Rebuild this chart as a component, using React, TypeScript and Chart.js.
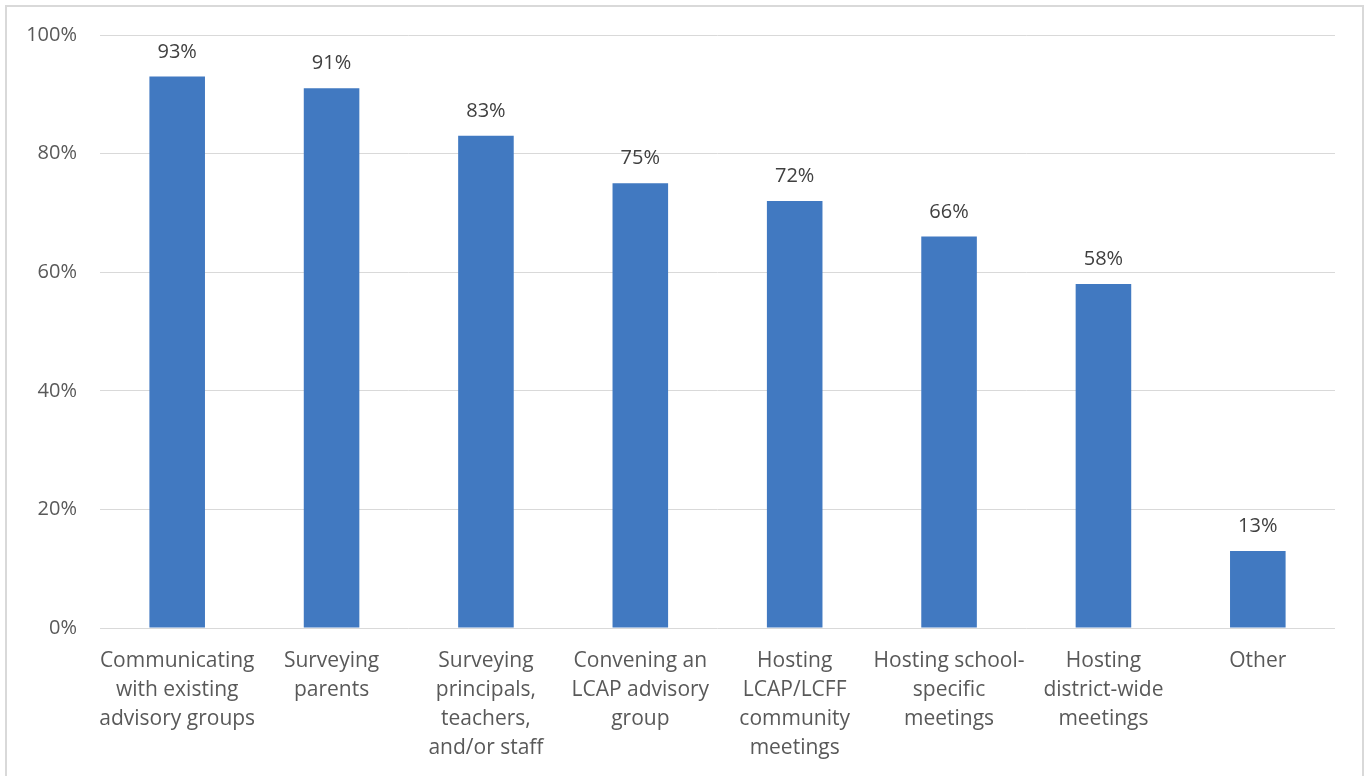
import React, { useEffect, useRef } from "react";
import { Chart, registerables } from "chart.js";

Chart.register(...registerables);

const categories: (string | string[])[] = [
  ["Communicating", "with existing", "advisory groups"],
  ["Surveying", "parents"],
  ["Surveying", "principals,", "teachers,", "and/or staff"],
  ["Convening an", "LCAP advisory", "group"],
  ["Hosting", "LCAP/LCFF", "community", "meetings"],
  ["Hosting school-", "specific", "meetings"],
  ["Hosting", "district-wide", "meetings"],
  ["Other"],
];
const values: number[] = [93, 91, 83, 75, 72, 66, 58, 13];
const yTicks: number[] = [0, 20, 40, 60, 80, 100];

const FONT = "'Open Sans', sans-serif";

const frame = {
  id: "frame",
  beforeDraw(chart: any) {
    const ctx = chart.ctx;
    ctx.save();
    ctx.fillStyle = "#ffffff";
    ctx.fillRect(0, 0, chart.width, chart.height);
    ctx.strokeStyle = "#D9D9D9";
    ctx.lineWidth = 2;
    ctx.strokeRect(6, 6, 1357, 820);
    ctx.restore();
  },
};

const dataLabels = {
  id: "dataLabels",
  afterDatasetsDraw(chart: any) {
    const ctx = chart.ctx;
    const meta = chart.getDatasetMeta(0);
    ctx.save();
    ctx.fillStyle = "#404040";
    ctx.font = `20px ${FONT}`;
    ctx.textAlign = "center";
    ctx.textBaseline = "alphabetic";
    meta.data.forEach((bar: any, i: number) => {
      ctx.fillText(`${values[i]}%`, bar.x, bar.y - 19);
    });
    ctx.restore();
  },
};

export default function App() {
  const ref = useRef<HTMLCanvasElement>(null);
  useEffect(() => {
    if (!ref.current) return;
    const chart = new Chart(ref.current, {
      type: "bar",
      data: {
        labels: categories,
        datasets: [
          {
            data: values,
            backgroundColor: "#4179C1",
            borderWidth: 0,
            barPercentage: 0.72,
            categoryPercentage: 0.5,
          },
        ],
      },
      options: {
        responsive: false,
        animation: false,
        events: [],
        layout: { padding: { left: 0, top: 34, right: 35, bottom: 0 } },
        plugins: { legend: { display: false }, tooltip: { enabled: false } },
        scales: {
          y: {
            min: 0,
            max: 100,
            afterFit(scale: any) {
              scale.width = 100;
            },
            afterBuildTicks(scale: any) {
              scale.ticks = yTicks.map((v) => ({ value: v }));
            },
            grid: { color: "#D9D9D9", lineWidth: 1, drawTicks: false },
            border: { display: false },
            ticks: {
              padding: 23,
              color: "#595959",
              font: { family: FONT, size: 20 },
              callback: (v: any) => `${v}%`,
            },
          },
          x: {
            afterFit(scale: any) {
              scale.height = 776 - 628;
            },
            grid: { display: false, drawTicks: false },
            border: { display: false },
            ticks: {
              autoSkip: false,
              maxRotation: 0,
              padding: 19,
              color: "#595959",
              font: { family: FONT, size: 21, lineHeight: 1.38 },
            },
          },
        },
      },
      plugins: [frame, dataLabels],
    });
    return () => chart.destroy();
  }, []);
  return (
    <div style={{ position: "absolute", left: 0, top: 0, width: 1370, height: 776 }}>
      <canvas ref={ref} width={1370} height={776} style={{ display: "block" }} />
    </div>
  );
}
